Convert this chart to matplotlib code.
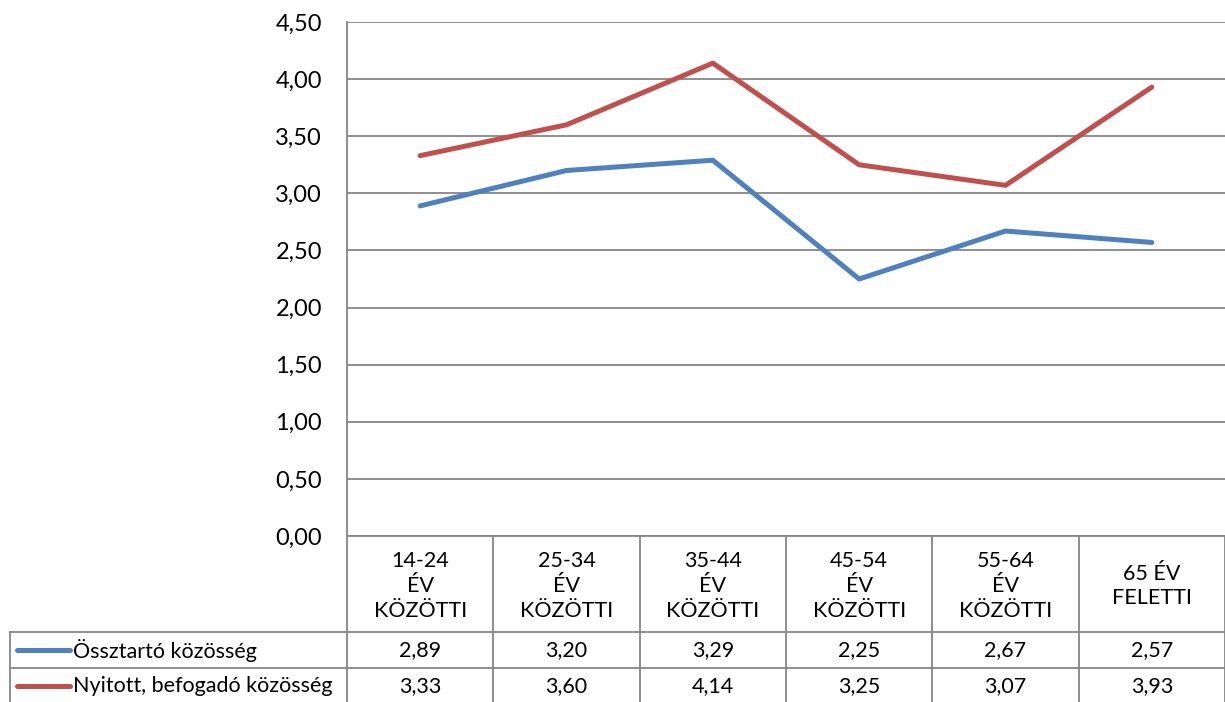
import matplotlib
matplotlib.use('Agg')
import matplotlib.pyplot as plt
import matplotlib.transforms as mtransforms
from matplotlib.lines import Line2D

plt.rcParams['font.family'] = ['Lato', 'DejaVu Sans']

# data
categories = ['14-24\nÉV\nKÖZÖTTI', '25-34\nÉV\nKÖZÖTTI', '35-44\nÉV\nKÖZÖTTI',
              '45-54\nÉV\nKÖZÖTTI', '55-64\nÉV\nKÖZÖTTI', '65 ÉV\nFELETTI']
series_names = ['Össztartó közösség', 'Nyitott, befogadó közösség']
osszetarto = [2.89, 3.20, 3.29, 2.25, 2.67, 2.57]
nyitott = [3.33, 3.60, 4.14, 3.25, 3.07, 3.93]
series_values = [osszetarto, nyitott]
series_colors = ['#4F81BD', '#C0504D']
yticks = [0, 0.5, 1.0, 1.5, 2.0, 2.5, 3.0, 3.5, 4.0, 4.5]

W, H = 1225, 702
fig = plt.figure(figsize=(W / 100, H / 100), dpi=100)

def fx(x):
    return x / W

def fy(y):
    return 1 - y / H

left, right, top, bottom = 347, 1225, 22, 536
ax = fig.add_axes([fx(left), fy(bottom), fx(right - left), (bottom - top) / H])

grid_col = '#868686'
x = list(range(len(categories)))
for vals, col in zip(series_values, series_colors):
    ax.plot(x, vals, color=col, linewidth=3.6, solid_capstyle='round', zorder=3)

ax.set_xlim(-0.5, len(categories) - 0.5)
ax.set_ylim(0, 4.5)
ax.set_yticks(yticks)
ax.set_yticklabels([f'{v:.2f}'.replace('.', ',') for v in yticks], fontsize=17)
ax.tick_params(axis='y', length=0, pad=18)
ax.set_xticks([])
ax.grid(axis='y', color=grid_col, linewidth=1.3)
ax.set_axisbelow(True)
for side in ['top', 'right', 'bottom']:
    ax.spines[side].set_visible(False)
ax.spines['left'].set_color(grid_col)
ax.spines['left'].set_linewidth(1.3)

# data table below the plot
blend = mtransforms.blended_transform_factory(ax.transData, fig.transFigure)
row1, row2 = 632, 668

def fline(x0, y0, x1, y1):
    fig.add_artist(Line2D([fx(x0), fx(x1)], [fy(y0), fy(y1)], color=grid_col,
                          linewidth=1.3, transform=fig.transFigure))

fline(left, bottom, right, bottom)
fline(10, row1, right, row1)
fline(10, row2, right, row2)
fline(10, row1, 10, H)
for i in range(len(categories) + 1):
    xb = i - 0.5
    fig.add_artist(Line2D([xb, xb], [fy(bottom), fy(H)], color=grid_col,
                          linewidth=1.3, transform=blend, clip_on=False))

for i, cat in enumerate(categories):
    fig.text(i, fy((bottom + row1) / 2 + 2), cat, transform=blend, ha='center',
             va='center', fontsize=15.5, linespacing=1.3)

row_centers = [(row1 + row2) / 2, (row2 + H) / 2 + 1]
for vals, col, name, yc in zip(series_values, series_colors, series_names, row_centers):
    fig.add_artist(Line2D([fx(17), fx(70)], [fy(yc), fy(yc)], color=col, linewidth=3.6,
                          solid_capstyle='round', transform=fig.transFigure))
    fig.text(fx(73), fy(yc), name, ha='left', va='center', fontsize=15.5)
    for i, v in enumerate(vals):
        fig.text(i, fy(yc), f'{v:.2f}'.replace('.', ','), transform=blend,
                 ha='center', va='center', fontsize=15.5)

fig.savefig('out.png', dpi=100)
